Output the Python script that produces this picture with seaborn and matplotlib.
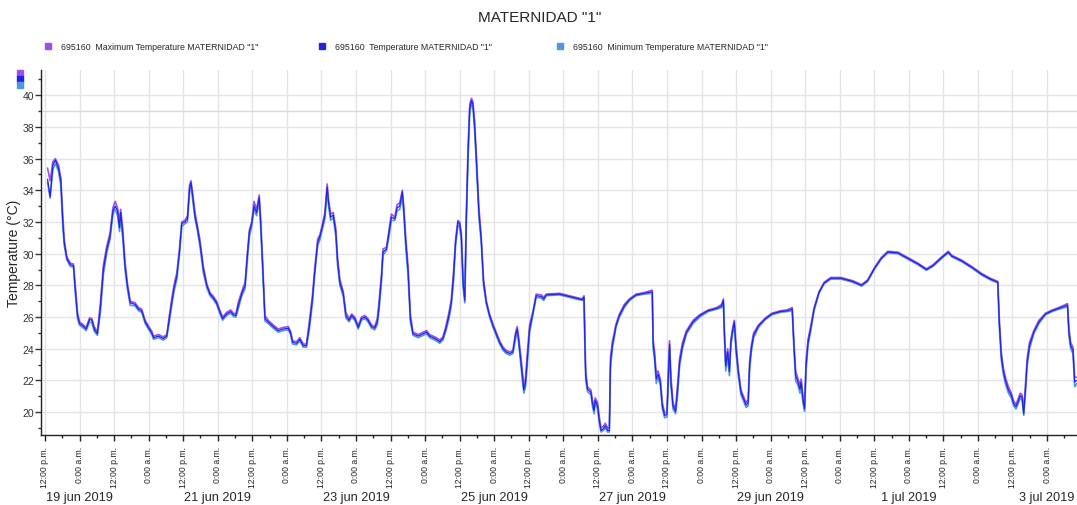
import pandas as pd
import matplotlib
matplotlib.use("Agg")
import matplotlib.pyplot as plt
import matplotlib.dates as mdates
import matplotlib.ticker as mticker
from matplotlib.lines import Line2D
import seaborn as sns

# -----------------------
# DATA (hours since 19 jun 2019 00:00)
# -----------------------
hours = [
    12.9, 13.8, 14.75, 15.6, 16.7, 17.5, 18.2, 18.7, 19.6, 20.8,
    21.9, 22.5, 23.3, 24.0, 25.4, 26.3, 27.5, 28.3, 29.1, 30.2,
    31.2, 32.3, 33.5, 34.6, 35.6, 36.4, 37.2, 37.9, 38.3, 39.0,
    39.8, 40.6, 41.6, 43.3, 44.5, 45.6, 46.8, 47.9, 49.1, 49.7,
    51.4, 53.1, 54.3, 55.2, 56.0, 56.8, 57.8, 58.7, 59.5, 60.6,
    61.5, 62.2, 62.7, 63.3, 64.1, 64.9, 65.8, 67.0, 68.2, 69.3,
    70.5, 71.6, 72.8, 73.7, 75.1, 76.5, 77.4, 78.3, 79.1, 80.3,
    81.5, 82.3, 83.0, 83.8, 84.6, 85.5, 86.4, 86.9, 87.6, 88.4,
    89.5, 91.3, 93.0, 94.8, 96.5, 97.3, 98.0, 99.4, 100.5, 101.7,
    102.8, 103.8, 104.9, 105.7, 106.7, 107.5, 108.4, 109.2, 110.0, 110.5,
    111.2, 112.1, 113.0, 113.6, 114.4, 115.6, 116.5, 117.6, 118.5, 119.6,
    120.8, 121.9, 123.1, 124.2, 125.4, 126.5, 127.4, 128.0, 128.9, 129.4,
    130.6, 131.5, 132.3, 133.5, 134.3, 135.2, 136.1, 136.6, 137.3, 138.1,
    138.9, 139.8, 141.6, 143.3, 144.5, 145.6, 146.8, 147.9, 149.1, 150.2,
    151.2, 152.3, 153.1, 153.9, 154.6, 155.4, 156.0, 156.6, 157.2, 157.8,
    158.3, 158.9, 159.5, 160.1, 160.6, 161.2, 161.8, 162.7, 163.5, 164.3,
    165.3, 166.4, 167.6, 168.7, 169.9, 171.1, 172.2, 173.4, 174.5, 175.4,
    176.0, 176.6, 177.2, 177.8, 178.3, 178.9, 179.5, 180.3, 181.5, 182.6,
    184.3, 185.2, 186.1, 190.7, 194.0, 196.3, 198.6, 199.2, 199.5, 199.8,
    200.4, 201.6, 202.1, 202.7, 203.1, 203.9, 204.5, 205.1, 205.9, 206.6,
    207.4, 208.0, 208.4, 209.1, 209.7, 210.3, 211.5, 213.2, 215.0, 217.3,
    220.2, 222.9, 223.2, 223.7, 224.3, 224.9, 225.7, 226.4, 227.2, 228.0,
    228.5, 228.9, 229.4, 230.1, 231.0, 231.7, 232.4, 233.4, 234.8, 237.1,
    239.4, 242.3, 245.3, 247.0, 247.6, 247.9, 248.4, 249.1, 249.7, 250.2,
    250.9, 251.4, 252.0, 252.8, 253.7, 254.6, 255.5, 256.2, 256.7, 257.3,
    258.1, 259.8, 262.2, 264.5, 267.4, 269.7, 271.5, 272.1, 272.7, 273.5,
    274.2, 274.6, 275.2, 275.8, 276.3, 277.0, 277.9, 279.1, 280.8, 282.6,
    284.9, 288.4, 292.5, 295.6, 297.7, 300.0, 302.4, 304.7, 308.2, 311.7,
    315.2, 318.1, 320.4, 323.4, 325.7, 326.9, 330.3, 333.8, 337.3, 340.3,
    342.9, 343.4, 344.1, 344.9, 345.7, 346.6, 347.6, 348.4, 349.2, 349.9,
    350.7, 351.3, 351.9, 352.5, 353.1, 353.9, 355.4, 357.2, 359.5, 361.8,
    364.1, 367.1, 367.6, 368.2, 369.0, 369.6, 370.3,
]

temp = [
    34.7, 33.6, 35.6, 35.9, 35.4, 34.6, 32.0, 30.7, 29.7, 29.3,
    29.25, 27.8, 26.1, 25.6, 25.4, 25.25, 25.85, 25.8, 25.25, 24.95,
    26.5, 29.0, 30.3, 31.1, 32.7, 33.0, 32.7, 31.65, 32.6, 31.3,
    29.25, 28.0, 26.9, 26.8, 26.5, 26.4, 25.7, 25.35, 25.0, 24.7,
    24.8, 24.65, 24.8, 25.9, 26.9, 27.8, 28.6, 30.1, 31.9, 32.0,
    32.2, 34.1, 34.5, 33.65, 32.4, 31.65, 30.7, 29.0, 28.0, 27.45,
    27.2, 26.9, 26.3, 25.9, 26.2, 26.35, 26.15, 26.1, 26.7, 27.45,
    28.0, 29.9, 31.35, 31.9, 33.0, 32.6, 33.55, 32.0, 29.25, 25.9,
    25.7, 25.4, 25.15, 25.25, 25.3, 25.0, 24.4, 24.35, 24.6, 24.2,
    24.2, 25.45, 27.15, 28.9, 30.7, 31.1, 31.75, 32.4, 34.2, 33.2,
    32.3, 32.45, 31.35, 29.55, 28.2, 27.45, 26.1, 25.8, 26.1, 25.9,
    25.35, 25.9, 26.0, 25.8, 25.4, 25.3, 25.7, 26.65, 28.6, 30.1,
    30.3, 31.35, 32.3, 32.2, 32.9, 33.0, 33.9, 32.8, 30.7, 28.9,
    25.9, 24.95, 24.8, 24.95, 25.05, 24.8, 24.7, 24.6, 24.45, 24.65,
    25.25, 26.1, 26.9, 28.6, 30.7, 32.0, 31.9, 31.1, 28.2, 27.05,
    32.0, 36.2, 39.1, 39.65, 39.45, 38.1, 36.0, 32.6, 30.9, 28.2,
    26.9, 26.1, 25.45, 24.95, 24.4, 24.0, 23.8, 23.7, 23.8, 24.85,
    25.25, 24.4, 23.35, 22.3, 21.4, 21.9, 23.35, 25.25, 26.3, 27.35,
    27.3, 27.15, 27.4, 27.45, 27.3, 27.2, 27.1, 27.25, 24.4, 22.3,
    21.45, 21.25, 20.6, 20.1, 20.75, 20.4, 19.5, 18.85, 18.95, 19.15,
    18.85, 18.85, 23.15, 24.3, 24.85, 25.45, 26.1, 26.7, 27.1, 27.4,
    27.5, 27.6, 24.3, 23.55, 22.1, 22.4, 21.9, 20.4, 19.8, 19.85,
    22.3, 24.3, 21.9, 20.4, 20.05, 21.45, 23.15, 24.2, 25.05, 25.7,
    26.1, 26.4, 26.55, 26.7, 27.05, 25.25, 22.9, 23.8, 22.55, 24.4,
    25.25, 25.7, 24.0, 22.5, 21.25, 20.85, 20.45, 20.6, 22.9, 24.0,
    24.85, 25.45, 25.9, 26.2, 26.35, 26.4, 26.5, 24.2, 22.3, 21.9,
    21.45, 21.9, 20.85, 20.2, 22.9, 24.4, 25.25, 26.5, 27.55, 28.15,
    28.45, 28.45, 28.25, 28.0, 28.3, 29.05, 29.7, 30.1, 30.05, 29.7,
    29.35, 29.0, 29.25, 29.75, 30.1, 29.85, 29.55, 29.15, 28.7, 28.4,
    28.2, 25.7, 23.55, 22.5, 21.9, 21.4, 21.05, 20.55, 20.35, 20.65,
    21.05, 20.95, 19.9, 21.45, 23.15, 24.2, 25.05, 25.7, 26.2, 26.4,
    26.55, 26.75, 25.05, 24.2, 23.9, 21.9, 22.0,
]

temp_max = [
    35.4, 34.6, 35.8, 36.0, 35.6, 34.8, 32.4, 30.9, 29.8, 29.4,
    29.35, 28.1, 26.3, 25.7, 25.5, 25.35, 25.95, 25.9, 25.4, 25.05,
    26.8, 29.3, 30.5, 31.3, 32.9, 33.3, 32.9, 32.0, 32.8, 31.6,
    29.5, 28.2, 27.0, 26.9, 26.6, 26.5, 25.8, 25.45, 25.1, 24.8,
    24.9, 24.75, 24.9, 26.1, 27.1, 28.0, 28.8, 30.3, 32.0, 32.1,
    32.4, 34.3, 34.6, 33.8, 32.6, 31.8, 30.9, 29.2, 28.1, 27.55,
    27.3, 27.0, 26.4, 26.0, 26.3, 26.45, 26.25, 26.2, 26.9, 27.6,
    28.2, 30.1, 31.5, 32.0, 33.3, 32.8, 33.7, 32.3, 29.5, 26.1,
    25.8, 25.5, 25.25, 25.35, 25.4, 25.1, 24.5, 24.45, 24.7, 24.3,
    24.3, 25.7, 27.4, 29.1, 30.9, 31.2, 31.9, 32.6, 34.4, 33.4,
    32.5, 32.6, 31.6, 29.8, 28.4, 27.6, 26.3, 25.9, 26.2, 26.0,
    25.45, 26.0, 26.1, 25.9, 25.5, 25.4, 25.9, 26.9, 28.8, 30.3,
    30.4, 31.5, 32.5, 32.3, 33.1, 33.2, 34.0, 33.0, 31.0, 29.2,
    26.2, 25.05, 24.9, 25.05, 25.15, 24.9, 24.8, 24.7, 24.55, 24.75,
    25.4, 26.3, 27.1, 28.9, 30.9, 32.1, 32.0, 31.3, 28.5, 27.3,
    32.4, 36.6, 39.4, 39.8, 39.6, 38.4, 36.3, 32.9, 31.1, 28.4,
    27.0, 26.2, 25.55, 25.05, 24.5, 24.1, 23.9, 23.8, 23.9, 25.0,
    25.4, 24.6, 23.6, 22.6, 21.6, 22.2, 23.7, 25.5, 26.4, 27.45,
    27.4, 27.25, 27.45, 27.5, 27.35, 27.25, 27.15, 27.35, 24.8, 22.6,
    21.6, 21.4, 20.8, 20.3, 20.9, 20.6, 19.7, 19.0, 19.1, 19.3,
    19.0, 19.0, 23.5, 24.5, 25.0, 25.55, 26.2, 26.8, 27.15, 27.45,
    27.55, 27.7, 24.6, 23.8, 22.4, 22.6, 22.1, 20.6, 19.95, 20.0,
    22.8, 24.5, 22.2, 20.6, 20.2, 21.8, 23.4, 24.4, 25.15, 25.8,
    26.15, 26.45, 26.6, 26.8, 27.15, 25.5, 23.2, 24.0, 22.8, 24.6,
    25.4, 25.8, 24.3, 22.7, 21.4, 21.0, 20.6, 20.8, 23.2, 24.2,
    25.0, 25.5, 25.95, 26.25, 26.4, 26.45, 26.6, 24.5, 22.6, 22.1,
    21.7, 22.1, 21.1, 20.35, 23.2, 24.6, 25.4, 26.6, 27.6, 28.2,
    28.5, 28.5, 28.3, 28.05, 28.35, 29.1, 29.75, 30.15, 30.1, 29.75,
    29.4, 29.05, 29.3, 29.8, 30.15, 29.9, 29.6, 29.2, 28.75, 28.45,
    28.25, 26.0, 23.8, 22.7, 22.1, 21.6, 21.2, 20.7, 20.5, 20.8,
    21.2, 21.1, 20.1, 21.7, 23.4, 24.4, 25.15, 25.8, 26.25, 26.45,
    26.6, 26.85, 25.3, 24.4, 24.1, 22.2, 22.2,
]

temp_min = [
    34.5, 33.5, 35.3, 35.7, 35.2, 34.3, 31.7, 30.5, 29.6, 29.2,
    29.15, 27.6, 25.9, 25.5, 25.3, 25.15, 25.7, 25.65, 25.1, 24.85,
    26.2, 28.7, 30.1, 30.9, 32.5, 32.8, 32.4, 31.4, 32.3, 31.0,
    29.0, 27.8, 26.75, 26.7, 26.4, 26.3, 25.6, 25.25, 24.9, 24.6,
    24.7, 24.55, 24.7, 25.7, 26.7, 27.6, 28.4, 29.9, 31.7, 31.9,
    32.0, 33.8, 34.3, 33.4, 32.2, 31.5, 30.5, 28.8, 27.85, 27.35,
    27.1, 26.8, 26.2, 25.8, 26.1, 26.25, 26.05, 26.0, 26.5, 27.3,
    27.8, 29.6, 31.1, 31.7, 32.8, 32.4, 33.3, 31.7, 28.9, 25.75,
    25.6, 25.3, 25.05, 25.15, 25.2, 24.9, 24.3, 24.25, 24.5, 24.1,
    24.1, 25.2, 26.9, 28.7, 30.5, 30.9, 31.6, 32.2, 33.9, 33.0,
    32.1, 32.3, 31.1, 29.3, 28.0, 27.3, 25.95, 25.7, 26.0, 25.8,
    25.25, 25.8, 25.9, 25.7, 25.3, 25.2, 25.5, 26.4, 28.3, 29.9,
    30.2, 31.1, 32.1, 32.1, 32.7, 32.8, 33.6, 32.5, 30.4, 28.6,
    25.7, 24.85, 24.7, 24.85, 24.95, 24.7, 24.6, 24.5, 24.35, 24.55,
    25.1, 25.9, 26.7, 28.3, 30.5, 31.8, 31.7, 30.8, 27.9, 26.9,
    31.6, 35.8, 38.8, 39.5, 39.2, 37.8, 35.7, 32.3, 30.7, 28.0,
    26.8, 26.0, 25.35, 24.85, 24.3, 23.9, 23.7, 23.6, 23.7, 24.6,
    25.1, 24.2, 23.1, 22.0, 21.2, 21.6, 23.0, 25.0, 26.2, 27.25,
    27.2, 27.05, 27.35, 27.4, 27.25, 27.15, 27.05, 27.15, 24.0, 22.0,
    21.3, 21.1, 20.4, 19.9, 20.6, 20.2, 19.3, 18.75, 18.85, 19.0,
    18.75, 18.75, 22.8, 24.1, 24.7, 25.35, 26.0, 26.6, 27.05, 27.35,
    27.45, 27.5, 24.0, 23.3, 21.8, 22.2, 21.7, 20.2, 19.65, 19.7,
    21.9, 24.0, 21.6, 20.2, 19.9, 21.1, 22.9, 24.0, 24.95, 25.6,
    26.0, 26.35, 26.5, 26.6, 26.9, 25.0, 22.6, 23.5, 22.3, 24.2,
    25.1, 25.5, 23.7, 22.3, 21.1, 20.7, 20.3, 20.4, 22.6, 23.8,
    24.7, 25.35, 25.85, 26.15, 26.3, 26.35, 26.4, 23.9, 22.0, 21.7,
    21.2, 21.7, 20.6, 20.05, 22.6, 24.2, 25.1, 26.4, 27.5, 28.1,
    28.4, 28.4, 28.2, 27.95, 28.25, 29.0, 29.65, 30.05, 30.0, 29.65,
    29.3, 28.95, 29.2, 29.7, 30.05, 29.8, 29.5, 29.1, 28.65, 28.35,
    28.15, 25.4, 23.3, 22.3, 21.7, 21.2, 20.9, 20.4, 20.2, 20.5,
    20.9, 20.8, 19.8, 21.2, 22.9, 24.0, 24.95, 25.6, 26.15, 26.35,
    26.5, 26.65, 24.8, 24.0, 23.7, 21.6, 21.8,
]

threshold = 39
series_names = ['695160  Maximum Temperature MATERNIDAD "1"',
                '695160  Temperature MATERNIDAD "1"',
                '695160  Minimum Temperature MATERNIDAD "1"']
series_colors = ["#9b50ee", "#2424dc", "#4f96e6"]
date_labels = ["19 jun 2019", "21 jun 2019", "23 jun 2019", "25 jun 2019",
               "27 jun 2019", "29 jun 2019", "1 jul 2019", "3 jul 2019"]

# -----------------------
# SETUP
# -----------------------
sns.set_style("white")
plt.rcParams["font.family"] = ["Liberation Sans", "DejaVu Sans"]

start = pd.Timestamp("2019-06-19 00:00")
df = pd.DataFrame({
    "time": start + pd.to_timedelta(hours, unit="h"),
    "max": temp_max,
    "temp": temp,
    "min": temp_min,
})

fig = plt.figure(figsize=(10.77, 5.06), dpi=100)
ax = fig.add_axes([0.038, 0.138, 0.962, 0.722])

ax.axhline(threshold, color="#c2e0f4", lw=1, zorder=1)
sns.lineplot(data=df, x="time", y="max", color=series_colors[0], lw=1.2, ax=ax, zorder=3)
sns.lineplot(data=df, x="time", y="min", color=series_colors[2], lw=1.2, ax=ax, zorder=3)
sns.lineplot(data=df, x="time", y="temp", color=series_colors[1], lw=0.9, ax=ax, zorder=4)

ax.set_xlim(start + pd.Timedelta(hours=10.6), start + pd.Timedelta(hours=370.4))
ax.set_ylim(18.55, 41.6)

# -----------------------
# AXES
# -----------------------
ax.xaxis.set_major_locator(mdates.HourLocator(byhour=[0, 12]))
ax.xaxis.set_minor_locator(mdates.HourLocator(byhour=[6, 18]))
ax.xaxis.set_major_formatter(mticker.FuncFormatter(
    lambda v, p: "12:00 p.m." if mdates.num2date(v).hour == 12 else "0:00 a.m."))
ax.yaxis.set_major_locator(mticker.MultipleLocator(2))
ax.yaxis.set_minor_locator(mticker.MultipleLocator(1))

ax.tick_params(axis="x", which="major", length=4, width=1, labelsize=6.2,
               labelrotation=90, pad=4, colors="#222222")
ax.tick_params(axis="x", which="minor", length=2.5, width=1, color="#222222")
ax.tick_params(axis="y", which="major", length=4, width=1, labelsize=7.5,
               pad=1, colors="#333333")
ax.tick_params(axis="y", which="minor", length=2.5, width=1, color="#333333")
ax.tick_params(bottom=True, left=True, which="both")

ax.grid(True, which="major", color="#e4e4e4", lw=1)
sns.despine(ax=ax)
for s in ["left", "bottom"]:
    ax.spines[s].set_color("#222222")
    ax.spines[s].set_linewidth(1)

ax.set_xlabel("")
ax.set_ylabel("Temperature (°C)", fontsize=10)
ax.yaxis.set_label_coords(-0.0195, 0.5)

for i, lab in enumerate(date_labels):
    x = start + pd.Timedelta(days=2 * i + 1)
    ax.text(x, -0.169, lab, transform=ax.get_xaxis_transform(),
            ha="center", va="center", fontsize=9.2)

# -----------------------
# TITLE / LEGEND
# -----------------------
fig.text(0.501, 0.964, 'MATERNIDAD "1"', ha="center", va="center", fontsize=11)

leg_x = [0.0446, 0.299, 0.520]
for lx, name, c in zip(leg_x, series_names, series_colors):
    fig.add_artist(Line2D([lx], [0.907], marker="s", markersize=4, color=c,
                          transform=fig.transFigure))
    fig.text(lx + 0.012, 0.907, name, ha="left", va="center", fontsize=6.3)

for yy, c in zip([0.853, 0.842, 0.830], series_colors):
    fig.add_artist(Line2D([0.019], [yy], marker="s", markersize=4, color=c,
                          transform=fig.transFigure))

fig.savefig("out.png", dpi=100)
